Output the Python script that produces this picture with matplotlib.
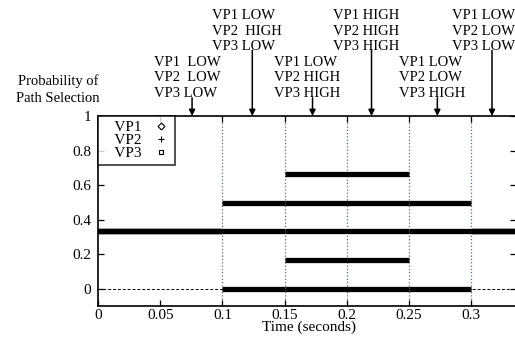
import matplotlib.pyplot as plt

plt.rcParams['font.family'] = ['Liberation Serif', 'DejaVu Serif']

# time intervals (seconds) and the path selection levels seen in each one
seg_start = [0.0, 0.1, 0.15, 0.25, 0.3]
seg_end = [0.1, 0.15, 0.25, 0.3, 0.3365]
vp1 = [[1/3], [0.5], [2/3], [0.5], [1/3]]
vp2 = [[1/3], [1/3], [1/3, 1/6], [1/3], [1/3]]
vp3 = [[1/3], [0.0], [0.5, 0.0], [0.0], [1/3]]
series_names = ['VP1', 'VP2', 'VP3']
series_markers = ['D', '+', 's']

# change points marked with arrows above the plot
event_x = [0.0755, 0.124, 0.1725, 0.220, 0.273, 0.317]
event_text = [
    "VP1  LOW\nVP2  LOW\nVP3 LOW",
    "VP1 LOW\nVP2  HIGH\nVP3 LOW",
    "VP1 LOW\nVP2 HIGH\nVP3 HIGH",
    "VP1 HIGH\nVP2 HIGH\nVP3 HIGH",
    "VP1 LOW\nVP2 LOW\nVP3 HIGH",
    "VP1 LOW\nVP2 LOW\nVP3 LOW",
]
event_high = [False, True, False, True, False, True]
# small shift of each label relative to its arrow
label_shift = [-0.004, -0.004, -0.004, -0.004, -0.004, -0.0065]

xticks = [0, 0.05, 0.1, 0.15, 0.2, 0.25, 0.3]
xticklabels = ['0', '0.05', '0.1', '0.15', '0.2', '0.25', '0.3']
yticks = [0, 0.2, 0.4, 0.6, 0.8, 1.0]
yticklabels = ['0', '0.2', '0.4', '0.6', '0.8', '1']
vlines_x = [0.1, 0.15, 0.2, 0.25, 0.3]

W, H = 515, 337
fig = plt.figure(figsize=(W / 100, H / 100), dpi=100)
ax = fig.add_axes([98.3 / W, (H - 306.3) / H, (516.2 - 98.3) / W, (306.3 - 116) / H])
ax.set_xlim(0, 0.3365)
ax.set_ylim(-0.1, 1.0)

# grid lines and zero line
for xv in vlines_x:
    ax.axvline(xv, color='#5a6a80', ls=':', lw=0.9, zorder=1)
ax.axhline(0, color='k', ls=(0, (3, 2)), lw=0.7, zorder=1)

# the data segments
for levels in (vp1, vp2, vp3):
    for x0, x1, lv in zip(seg_start, seg_end, levels):
        for y in lv:
            ax.hlines(y, x0, x1, color='k', lw=3.8, zorder=3)

# legend handles (marker on the right, gnuplot style)
handles = []
for name, m in zip(series_names, series_markers):
    h, = ax.plot([], [], ls='none', marker=m, color='k', mfc='none',
                 ms=3.5 if m != '+' else 4, mew=0.8, label='   ' + name)
    handles.append(h)
leg = ax.legend(handles=handles, loc='upper left', markerfirst=False,
                fontsize=11, frameon=True, fancybox=False, borderpad=0.3,
                labelspacing=-0.05, handlelength=1.2, handletextpad=0.7,
                borderaxespad=0, edgecolor='k')
leg.get_frame().set_linewidth(1.2)

ax.set_xticks(xticks)
ax.set_xticklabels(xticklabels)
ax.set_yticks(yticks)
ax.set_yticklabels(yticklabels)
ax.tick_params(direction='in', length=4, width=0.9, labelsize=11,
               top=True, right=True)
ax.tick_params(axis='x', pad=2)
ax.tick_params(axis='y', pad=5)
for s in ax.spines.values():
    s.set_linewidth(1.2)

fig.text(309 / W, (H - 331) / H, 'Time (seconds)', ha='center', va='baseline',
         fontsize=11)

fig.text(58 / W, (H - 89.5) / H, 'Probability of\nPath Selection', ha='center',
         va='center', fontsize=10.5, linespacing=1.4)

# arrows and state labels above the plot
for xv, txt, high, dx in zip(event_x, event_text, event_high, label_shift):
    ystart = 1.38 if high else 1.105
    ytext = 1.49 if high else 1.22
    ax.annotate('', xy=(xv, 1.0), xytext=(xv, ystart),
                arrowprops=dict(arrowstyle='-|>', color='k', lw=1.1,
                                mutation_scale=9, shrinkA=0, shrinkB=0),
                annotation_clip=False)
    ax.text(xv + dx, ytext, txt, ha='center', va='center', fontsize=10.5,
            linespacing=1.27, multialignment='left', clip_on=False)

fig.savefig('out.png', dpi=100)
